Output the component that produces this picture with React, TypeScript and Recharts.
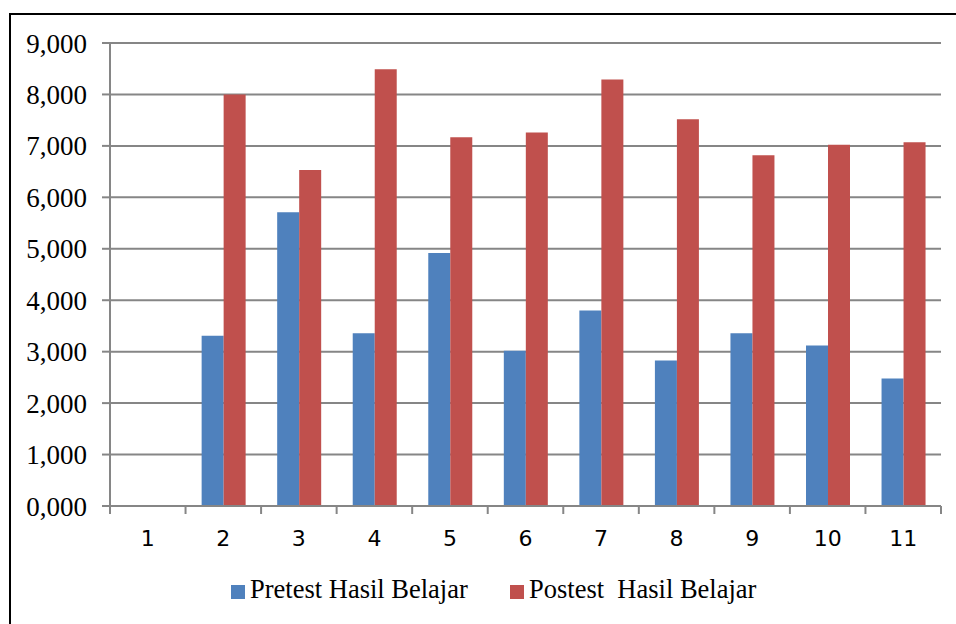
import { BarChart, Bar, XAxis, YAxis, CartesianGrid } from 'recharts';

// Values (decimal comma in the labels)
const categories = ['1', '2', '3', '4', '5', '6', '7', '8', '9', '10', '11'];
const pretest = [null, 3.31, 5.71, 3.36, 4.92, 3.02, 3.8, 2.83, 3.36, 3.12, 2.48];
const postest = [null, 8.0, 6.53, 8.49, 7.17, 7.26, 8.29, 7.52, 6.82, 7.02, 7.07];
const yTicks = [0, 1, 2, 3, 4, 5, 6, 7, 8, 9];

const seriesNames = ['Pretest Hasil Belajar', 'Postest\u00a0 Hasil Belajar'];
const BLUE = '#4F81BD';
const RED = '#C0504D';
const GRID = '#868686';
const SERIF = "'Liberation Serif', 'Times New Roman', serif";

const data = categories.map((name, i) => ({
  name,
  pretest: pretest[i],
  postest: postest[i],
}));

const WIDTH = 956;
const HEIGHT = 624;
const MARGIN = { top: 43, right: 15, left: 0, bottom: 0 };
const Y_AXIS_WIDTH = 110;
const BAND = (WIDTH - MARGIN.left - MARGIN.right - Y_AXIS_WIDTH) / categories.length;

const formatY = (v: number) => v.toFixed(3).replace('.', ',');

// category ticks sit on the band edges, labels in the middle
const XTick = (props: any) => {
  const { x, y, payload, index } = props;
  const top = y - 8;
  const left = x - BAND / 2;
  const right = x + BAND / 2;
  return (
    <g>
      <line x1={left} y1={top} x2={left} y2={y} stroke={GRID} strokeWidth={2} />
      {index === categories.length - 1 && (
        <line x1={right} y1={top} x2={right} y2={y} stroke={GRID} strokeWidth={2} />
      )}
      <text
        x={x}
        y={y + 32}
        textAnchor="middle"
        fontFamily="'DejaVu Sans', Verdana, sans-serif"
        fontSize={22}
        fill="#000"
      >
        {payload.value}
      </text>
    </g>
  );
};

export default function App() {
  return (
    <div
      style={{
        position: 'absolute',
        left: 0,
        top: 0,
        width: WIDTH,
        height: HEIGHT,
        overflow: 'hidden',
        background: '#fff',
      }}
    >
      <div
        style={{
          position: 'absolute',
          left: 9,
          top: 13,
          width: WIDTH,
          height: HEIGHT,
          borderLeft: '2px solid #000',
          borderTop: '2px solid #000',
        }}
      />
      <div style={{ position: 'absolute', left: 0, top: 0 }}>
        <BarChart
          width={WIDTH}
          height={HEIGHT}
          data={data}
          margin={MARGIN}
          barCategoryGap="21.3%"
          barGap={0}
        >
          <CartesianGrid vertical={false} stroke={GRID} strokeWidth={2} />
          <XAxis
            dataKey="name"
            height={118}
            axisLine={{ stroke: GRID, strokeWidth: 2 }}
            tickLine={false}
            tickSize={8}
            tickMargin={0}
            tick={<XTick />}
            interval={0}
          />
          <YAxis
            width={Y_AXIS_WIDTH}
            domain={[0, 9]}
            ticks={yTicks}
            interval={0}
            tickFormatter={formatY}
            axisLine={{ stroke: GRID, strokeWidth: 2 }}
            tickLine={{ stroke: GRID, strokeWidth: 2 }}
            tickSize={8}
            tickMargin={15}
            tick={{ fill: '#000', fontSize: 27, fontFamily: SERIF }}
          />
          <Bar dataKey="pretest" name={seriesNames[0]} fill={BLUE} isAnimationActive={false} />
          <Bar dataKey="postest" name={seriesNames[1]} fill={RED} isAnimationActive={false} />
        </BarChart>
      </div>
      <svg
        width={WIDTH}
        height={60}
        style={{ position: 'absolute', left: 0, top: 564 }}
      >
        <rect x={231} y={21} width={14} height={14} fill={BLUE} />
        <text x={250} y={34} fontFamily={SERIF} fontSize={26.5} fill="#000">
          {seriesNames[0]}
        </text>
        <rect x={510} y={21} width={14} height={14} fill={RED} />
        <text
          x={529}
          y={34}
          fontFamily={SERIF}
          fontSize={26.5}
          fill="#000"
          style={{ whiteSpace: 'pre' }}
        >
          {seriesNames[1]}
        </text>
      </svg>
    </div>
  );
}
